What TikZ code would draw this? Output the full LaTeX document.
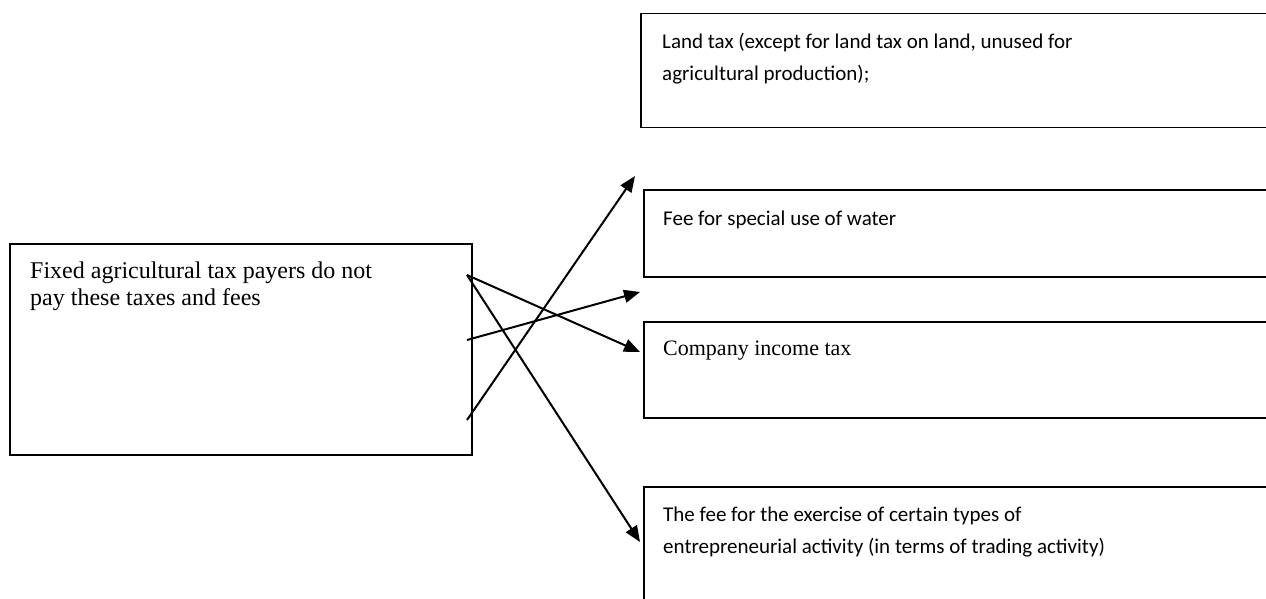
\documentclass[tikz,border=0pt]{standalone}
\usepackage{fontspec}
\setmainfont{Liberation Serif}
\newfontfamily\calfont{Carlito}
\usetikzlibrary{arrows.meta}
\begin{document}
\begin{tikzpicture}[x=1pt,y=-1pt,
  box/.style={draw=black, line width=1.5pt, anchor=north west, inner sep=0pt},
  serif/.style={font=\fontsize{22}{27}\selectfont, anchor=base west, align=left, inner sep=0pt},
  bigserif/.style={serif, font=\fontsize{24}{27}\selectfont},
  sans/.style={font=\calfont\fontsize{21}{32}\selectfont, anchor=base west, align=left, inner sep=0pt},
  arr/.style={line width=2pt, -{Triangle[length=16pt,width=13pt]}}]
\useasboundingbox (0,0) rectangle (1266,599);
\clip (0,0) rectangle (1266,599);
% boxes
\node[box, minimum width=462pt, minimum height=211pt] (src) at (9,243) {};
\node[box, minimum width=700pt, minimum height=114pt] (land) at (640,13) {};
\node[box, minimum width=700pt, minimum height=87pt] (water) at (643,189) {};
\node[box, minimum width=700pt, minimum height=96pt] (income) at (643,321) {};
\node[box, minimum width=700pt, minimum height=200pt] (trade) at (643,486) {};
% texts (anchor = baseline of the last line)
\node[bigserif] (srctext) at (30,305) {Fixed agricultural tax payers do not\\pay these taxes and fees};
\node[sans] (landtext) at (662,81) {Land tax (except for land tax on land, unused for\\agricultural production);};
\node[sans] (watertext) at (663,225) {Fee for special use of water};
\node[serif] (incometext) at (663,355) {Company income tax};
\node[sans] (tradetext) at (663,553) {The fee for the exercise of certain types of\\entrepreneurial activity (in terms of trading activity)};
% connector ends
\coordinate (s1) at (467,420);
\coordinate (s2) at (467,340);
\coordinate (s3) at (467,275);
\coordinate (t1) at (635,176);
\coordinate (t2) at (640,292);
\coordinate (t3) at (640,352);
\coordinate (t4) at (640,542);
\draw[arr] (s1) -- (t1);
\draw[arr] (s2) -- (t2);
\draw[arr] (s3) -- (t3);
\draw[arr] (s3) -- (t4);
\end{tikzpicture}
\end{document}
